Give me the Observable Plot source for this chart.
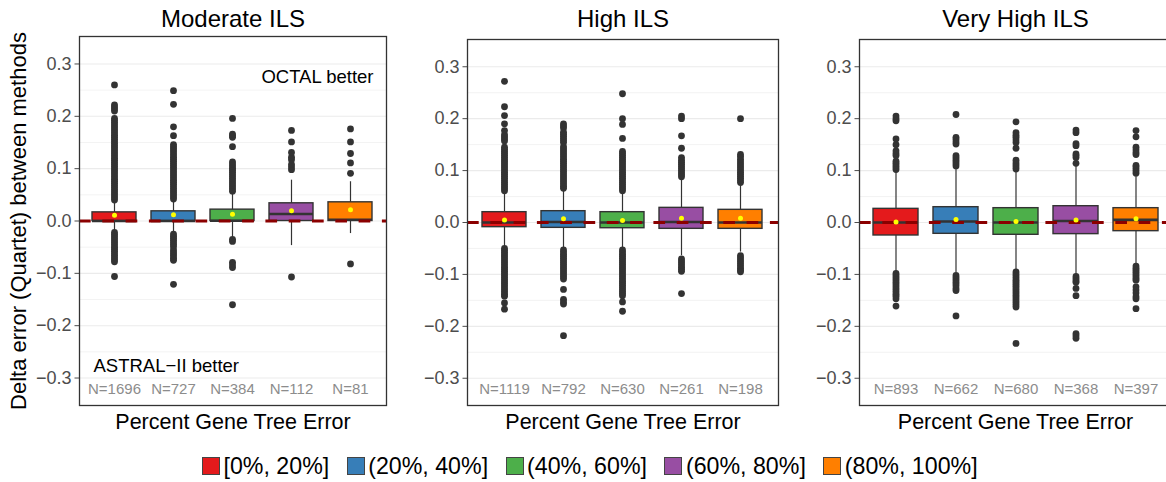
<!DOCTYPE html>
<html>
<head>
<meta charset="utf-8">
<script src="https://cdn.jsdelivr.net/npm/d3@7"></script>
<script src="https://cdn.jsdelivr.net/npm/@observablehq/plot@0.6"></script>
<style>
  html, body { margin: 0; padding: 0; background: #fff; }
  #wrap { position: relative; width: 1166px; height: 482px; overflow: hidden; background: #fff;
          font-family: "Liberation Sans", Arial, sans-serif; }
  .panel { position: absolute; top: 0; height: 440px; }
  .panel svg { max-width: none !important; display: block; }
  #legend { position: absolute; top: 452px; left: 202px; display: flex; align-items: center; height: 28px;
            font-size: 23.2px; color: #000; white-space: nowrap; }
  .item { display: flex; align-items: center; margin-right: 17.5px; }
  .sw { width: 16px; height: 16px; border: 1px solid #444; margin-right: 3.5px; box-sizing: content-box; }
</style>
</head>
<body>
<div id="wrap"></div>
<script>
// ---------- data ----------
const categories = ["[0%, 20%]", "(20%, 40%]", "(40%, 60%]", "(60%, 80%]", "(80%, 100%]"];
const colors = ["#E41A1C", "#377EB8", "#4DAF4A", "#984EA3", "#FF7F00"];
const panelTitles = ["Moderate ILS", "High ILS", "Very High ILS"];
const yTicks = [-0.3, -0.2, -0.1, 0, 0.1, 0.2, 0.3];
const yMinor = [-0.25, -0.15, -0.05, 0.05, 0.15, 0.25];

// Moderate ILS
const nModerate = [1696, 727, 384, 112, 81];
const q1Moderate = [0, 0, 0, 0, 0];
const medModerate = [0, 0, 0.0005, 0.0134, 0.0025];
const q3Moderate = [0.0165, 0.0185, 0.0217, 0.0338, 0.0357];
const loModerate = [-0.021, -0.022, -0.031, -0.047, -0.024];
const hiModerate = [0.036, 0.039, 0.052, 0.078, 0.075];
const meanModerate = [0.011, 0.012, 0.0127, 0.0198, 0.0217];
const outModerate = [
  [0.040,0.044,0.048,0.052,0.056,0.060,0.064,0.068,0.072,0.076,0.080,0.084,0.088,0.092,0.096,0.100,0.104,0.108,0.112,0.116,0.120,0.124,0.128,0.132,0.136,0.140,0.144,0.148,0.152,0.156,0.160,0.164,0.168,0.172,0.176,0.180,0.184,0.188,0.192,0.196,0.210,0.214,0.218,0.222,0.260,
   -0.022,-0.026,-0.030,-0.034,-0.038,-0.042,-0.046,-0.050,-0.054,-0.058,-0.062,-0.066,-0.070,-0.074,-0.078,-0.106],
  [0.042,0.046,0.050,0.054,0.058,0.062,0.066,0.070,0.074,0.078,0.082,0.086,0.090,0.094,0.098,0.102,0.106,0.110,0.114,0.118,0.122,0.126,0.130,0.134,0.138,0.142,0.146,0.163,0.180,0.223,0.249,
   -0.025,-0.029,-0.033,-0.037,-0.041,-0.045,-0.049,-0.055,-0.059,-0.063,-0.067,-0.071,-0.075,-0.121],
  [0.057,0.061,0.065,0.069,0.073,0.077,0.081,0.085,0.089,0.093,0.097,0.101,0.105,0.109,0.113,0.142,0.160,0.163,0.166,0.196,
   -0.035,-0.039,-0.079,-0.084,-0.089,-0.160],
  [0.098,0.103,0.108,0.117,0.122,0.131,0.151,0.173,-0.107],
  [0.091,0.111,0.129,0.151,0.176,-0.082]
];

// High ILS
const nHigh = [1119, 792, 630, 261, 198];
const q1High = [-0.009, -0.0103, -0.011, -0.0122, -0.0122];
const medHigh = [0, 0.001, 0, 0.001, 0];
const q3High = [0.0199, 0.0218, 0.0199, 0.0282, 0.0244];
const loHigh = [-0.047, -0.050, -0.050, -0.064, -0.057];
const hiHigh = [0.058, 0.063, 0.058, 0.083, 0.074];
const meanHigh = [0.005, 0.007, 0.004, 0.0083, 0.0083];
const outHigh = [
  [0.061,0.065,0.069,0.073,0.077,0.081,0.085,0.089,0.093,0.097,0.101,0.105,0.109,0.113,0.117,0.121,0.125,0.129,0.133,0.137,0.141,0.145,0.157,0.161,0.165,0.169,0.177,0.190,0.206,0.223,0.272,
   -0.050,-0.054,-0.058,-0.062,-0.066,-0.070,-0.074,-0.078,-0.082,-0.086,-0.090,-0.094,-0.098,-0.102,-0.106,-0.110,-0.114,-0.118,-0.122,-0.126,-0.130,-0.134,-0.138,-0.142,-0.155,-0.167],
  [0.066,0.070,0.074,0.078,0.082,0.086,0.090,0.094,0.098,0.102,0.106,0.110,0.114,0.118,0.122,0.126,0.130,0.134,0.138,0.142,0.146,0.154,0.158,0.162,0.166,0.170,0.174,0.182,0.186,0.190,
   -0.053,-0.057,-0.061,-0.065,-0.069,-0.073,-0.077,-0.081,-0.085,-0.089,-0.093,-0.097,-0.101,-0.105,-0.109,-0.129,-0.148,-0.153,-0.157,-0.218],
  [0.061,0.065,0.069,0.073,0.077,0.081,0.085,0.089,0.093,0.097,0.101,0.105,0.109,0.113,0.117,0.121,0.125,0.129,0.133,0.137,0.162,0.189,0.200,0.248,
   -0.053,-0.057,-0.061,-0.065,-0.069,-0.073,-0.077,-0.081,-0.085,-0.089,-0.093,-0.097,-0.101,-0.105,-0.109,-0.113,-0.117,-0.121,-0.125,-0.129,-0.133,-0.137,-0.141,-0.153,-0.171],
  [0.088,0.092,0.096,0.100,0.104,0.108,0.112,0.116,0.120,0.125,0.143,0.167,0.200,0.205,
   -0.070,-0.074,-0.078,-0.082,-0.086,-0.090,-0.094,-0.137],
  [0.077,0.081,0.085,0.089,0.093,0.097,0.101,0.105,0.109,0.113,0.117,0.122,0.127,0.131,0.200,
   -0.064,-0.068,-0.072,-0.076,-0.080,-0.084,-0.088,-0.092,-0.095]
];

// Very High ILS
const nVeryHigh = [893, 662, 680, 368, 397];
const q1VeryHigh = [-0.025, -0.0218, -0.0237, -0.0224, -0.0167];
const medVeryHigh = [0, 0.002, 0, 0.003, 0.005];
const q3VeryHigh = [0.0263, 0.0295, 0.0276, 0.0314, 0.0276];
const loVeryHigh = [-0.095, -0.097, -0.092, -0.100, -0.080];
const hiVeryHigh = [0.100, 0.104, 0.100, 0.108, 0.092];
const meanVeryHigh = [0.001, 0.006, 0.002, 0.005, 0.007];
const outVeryHigh = [
  [0.102,0.106,0.110,0.114,0.118,0.129,0.133,0.138,0.150,0.161,0.196,0.200,0.205,
   -0.098,-0.102,-0.106,-0.110,-0.114,-0.118,-0.122,-0.126,-0.130,-0.134,-0.138,-0.142,-0.147,-0.161],
  [0.109,0.113,0.117,0.121,0.125,0.129,0.151,0.155,0.160,0.164,0.208,
   -0.102,-0.106,-0.110,-0.114,-0.118,-0.122,-0.127,-0.131,-0.180],
  [0.103,0.107,0.111,0.115,0.120,0.143,0.154,0.159,0.164,0.168,0.173,0.194,
   -0.095,-0.099,-0.103,-0.107,-0.111,-0.115,-0.119,-0.123,-0.127,-0.131,-0.135,-0.139,-0.143,-0.147,-0.151,-0.155,-0.159,-0.163,-0.233],
  [0.114,0.125,0.129,0.132,0.148,0.152,0.173,0.178,
   -0.104,-0.108,-0.112,-0.115,-0.127,-0.141,-0.214,-0.218,-0.223],
  [0.095,0.099,0.103,0.107,0.110,0.131,0.135,0.140,0.145,0.165,0.177,
   -0.084,-0.088,-0.092,-0.096,-0.100,-0.104,-0.108,-0.111,-0.124,-0.130,-0.136,-0.143,-0.147,-0.166]
];

// ---------- drawing ----------
const FONT = '"Liberation Sans", Arial, sans-serif';

function makePanel(cfg) {
  const stats = categories.map((c, i) => ({
    cat: c, color: colors[i], n: cfg.n[i], q1: cfg.q1[i], med: cfg.med[i], q3: cfg.q3[i],
    lo: cfg.lo[i], hi: cfg.hi[i], mean: cfg.mean[i]
  }));
  const outs = categories.flatMap((c, i) => cfg.out[i].map(v => ({cat: c, v})));
  const marks = [
    Plot.ruleY(yMinor, {stroke: "#EBEBEB", strokeWidth: 0.6}),
    Plot.ruleY(yTicks, {stroke: "#EBEBEB", strokeWidth: 1.1}),
    Plot.axisY({ticks: yTicks, tickFormat: d3.format(".1f"), tickSize: 4.5, tickPadding: 3.5,
                fontSize: 18, color: "#4D4D4D", label: null}),
    Plot.ruleX(stats, {x: "cat", y1: "lo", y2: "hi", stroke: "#333", strokeWidth: 1.2}),
    Plot.barY(stats, {x: "cat", y1: "q1", y2: "q3", fill: "color", stroke: "#333", strokeWidth: 1.4}),
    Plot.tickY(stats, {x: "cat", y: "med", stroke: "#333", strokeWidth: 2.6}),
    Plot.dot(outs, {x: "cat", y: "v", r: 3.4, fill: "#333", stroke: "none"}),
    Plot.ruleY([0], {stroke: "#8B0000", strokeWidth: 3, strokeDasharray: "11.7,11.6"}),
    Plot.dot(stats, {x: "cat", y: "mean", r: 2.5, fill: "#FFFF00", stroke: "none"}),
    Plot.text(stats, {x: "cat", text: d => "N=" + d.n, frameAnchor: "bottom", lineAnchor: "middle", dy: -16,
                      fill: "#8C8C8C", fontSize: 15}),
    Plot.text([cfg.title], {text: d => d, frameAnchor: "top", lineAnchor: "middle", dy: cfg.titleDy,
                            fontSize: 24, fill: "#000"}),
    Plot.text(["Percent Gene Tree Error"], {text: d => d, frameAnchor: "bottom", lineAnchor: "middle", dy: 16.5,
                                            fontSize: 21.5, fill: "#000"}),
    Plot.frame({stroke: "#333", strokeWidth: 1.3})
  ];
  if (cfg.yLabel) {
    marks.push(Plot.text([cfg.yLabel], {text: d => d, frameAnchor: "left", textAnchor: "middle", lineAnchor: "middle",
                                         dx: -60.5, rotate: -90, fontSize: 22, fill: "#000"}));
  }
  if (cfg.notes) {
    marks.push(Plot.text(["OCTAL better"], {text: d => d, frameAnchor: "top-right", textAnchor: "end", lineAnchor: "middle",
                                            dx: -13, dy: 41, fontSize: 18.5, fill: "#000"}));
    marks.push(Plot.text(["ASTRAL\u2212II better"], {text: d => d, frameAnchor: "bottom-left", textAnchor: "start",
                                            lineAnchor: "middle", dx: 14, dy: -39, fontSize: 18.5, fill: "#000"}));
  }
  return Plot.plot({
    width: cfg.width, height: 440,
    marginLeft: cfg.ml, marginRight: cfg.mr, marginTop: cfg.mt, marginBottom: 35,
    style: {fontFamily: FONT, background: "transparent", overflow: "visible"},
    x: {type: "band", domain: categories, paddingInner: 0.25, paddingOuter: 0.225, axis: null},
    y: {domain: [-0.3525, 0.3525]},
    marks
  });
}

const wrap = document.getElementById("wrap");
const panelCfgs = [
  {title: panelTitles[0], n: nModerate, q1: q1Moderate, med: medModerate, q3: q3Moderate, lo: loModerate, hi: hiModerate,
   mean: meanModerate, out: outModerate, left: 0, width: 390, ml: 79, mr: 4, mt: 36, titleDy: -17.5,
   yLabel: "Delta error (Quartet) between methods", notes: true},
  {title: panelTitles[1], n: nHigh, q1: q1High, med: medHigh, q3: q3High, lo: loHigh, hi: hiHigh,
   mean: meanHigh, out: outHigh, left: 390, width: 390, ml: 77, mr: 2, mt: 39, titleDy: -20.5},
  {title: panelTitles[2], n: nVeryHigh, q1: q1VeryHigh, med: medVeryHigh, q3: q3VeryHigh, lo: loVeryHigh, hi: hiVeryHigh,
   mean: meanVeryHigh, out: outVeryHigh, left: 780, width: 392, ml: 79, mr: 1, mt: 39, titleDy: -20.5}
];
for (const cfg of panelCfgs) {
  const svg = makePanel(cfg);
  svg.style.maxWidth = "none";
  const d = document.createElement("div");
  d.className = "panel";
  d.style.left = cfg.left + "px";
  d.style.width = cfg.width + "px";
  d.appendChild(svg);
  wrap.appendChild(d);
}

// legend
const legend = document.createElement("div");
legend.id = "legend";
categories.forEach((c, i) => {
  const it = document.createElement("div");
  it.className = "item";
  const sw = document.createElement("div");
  sw.className = "sw";
  sw.style.background = colors[i];
  const tx = document.createElement("span");
  tx.textContent = c;
  it.appendChild(sw);
  it.appendChild(tx);
  legend.appendChild(it);
});
wrap.appendChild(legend);
</script>
</body>
</html>
